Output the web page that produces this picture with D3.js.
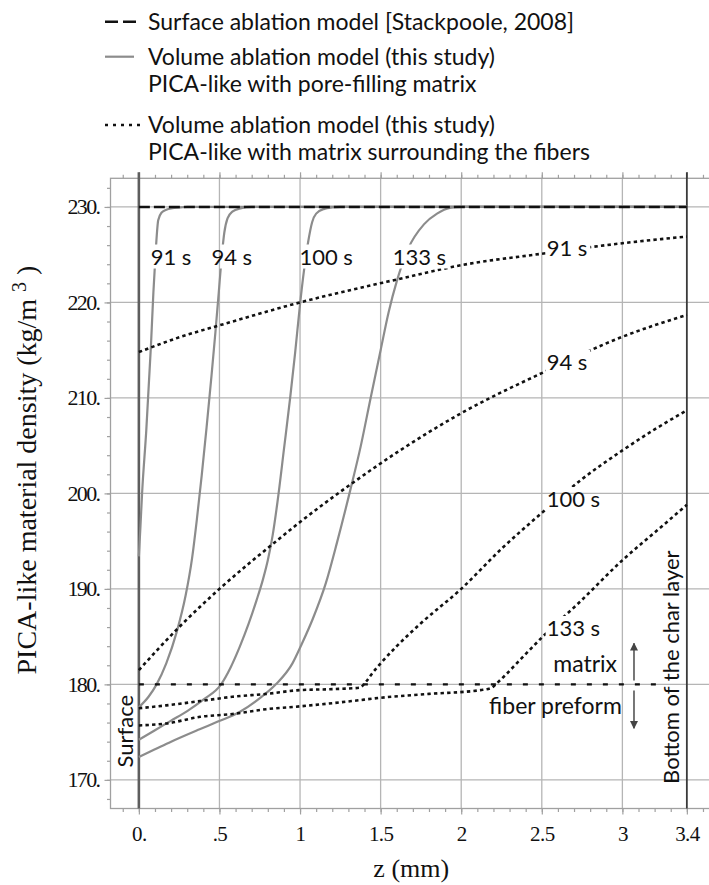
<!DOCTYPE html>
<html>
<head>
<meta charset="utf-8">
<script src="https://cdn.jsdelivr.net/npm/d3@7"></script>
<style>
  body { margin: 0; background: #fff; }
  svg { display: block; }
</style>
</head>
<body>
<svg id="chart" width="709" height="885"></svg>
<script>
// ---- data -------------------------------------------------------------
const depthTicks = [0, 0.5, 1, 1.5, 2, 2.5, 3, 3.4];
const depthTickLabels = ["0.", ".5", "1", "1.5", "2", "2.5", "3", "3.4"];
const densityTicks = [170, 180, 190, 200, 210, 220, 230];
const densityTickLabels = ["170.", "180.", "190.", "200.", "210.", "220.", "230."];
const timeLabels = ["91 s", "94 s", "100 s", "133 s"];

// surface ablation model: virgin char density everywhere
const surfaceModel = [[0, 230], [3.4, 230]];
// matrix / fiber preform density boundary
const matrixBoundary = [[0, 180], [3.22, 180]];

// volume ablation, pore-filling matrix  [z (mm), density (kg/m3)]
const poreFilling91 = [[0,193.4],[0.01,196.6],[0.02,200],[0.046,206.6],[0.075,215.5],[0.09,221],[0.105,225.5],[0.12,228.6],[0.14,229.4],[0.17,229.7],[0.2,229.85],[0.26,229.95],[0.3,230],[3.4,230]];
const poreFilling94 = [[0,177.6],[0.06,178.7],[0.11,180],[0.17,182.2],[0.235,185.5],[0.29,189.3],[0.33,193.2],[0.36,197.3],[0.39,201.9],[0.42,206.9],[0.45,212.2],[0.475,216.9],[0.495,220.9],[0.512,224.4],[0.53,227.3],[0.55,228.8],[0.58,229.5],[0.63,229.85],[0.7,230],[3.4,230]];
const poreFilling100 = [[0,174.2],[0.1,175.2],[0.2,176.2],[0.3,177.2],[0.4,178.4],[0.51,180],[0.57,181.8],[0.625,183.9],[0.68,186.3],[0.73,188.8],[0.77,191],[0.8,193],[0.83,195.6],[0.86,199.1],[0.9,204.6],[0.94,210.2],[0.97,214.8],[1.0,219.8],[1.025,223.4],[1.05,226.3],[1.075,228.4],[1.1,229.3],[1.15,229.8],[1.2,229.95],[1.25,230],[3.4,230]];
const poreFilling133 = [[0,172.4],[0.1,173.2],[0.2,174],[0.377,175.3],[0.49,176.1],[0.625,177.1],[0.747,178.5],[0.85,180],[0.953,182.2],[1.01,184.2],[1.08,186.9],[1.16,190.6],[1.23,194.9],[1.314,200.5],[1.376,204.9],[1.438,210],[1.5,215],[1.55,219],[1.6,222.2],[1.67,225.6],[1.77,228.2],[1.85,229.3],[1.93,229.9],[2.0,230],[3.4,230]];

// volume ablation, matrix surrounding the fibers
const surround91 = [[0,214.8],[0.26,216.4],[0.5,217.6],[1,220],[1.6,222.4],[2,223.9],[2.5,225.1],[3,226.2],[3.4,226.9]];
const surround94 = [[0,181.5],[0.25,186],[0.5,190],[0.86,195.1],[1,197],[1.31,200.9],[1.62,204.5],[2,208.4],[2.5,212.6],[3,216.4],[3.4,218.7]];
const surround100 = [[0,177.5],[0.17,177.8],[0.38,178.25],[0.58,178.7],[0.79,179.0],[1.0,179.4],[1.2,179.5],[1.37,179.65],[1.41,180.3],[1.45,181.2],[1.5,182.2],[1.6,184.0],[1.75,186.4],[2.0,190.0],[2.25,194.2],[2.51,198.1],[2.75,201.5],[3.0,204.5],[3.2,206.7],[3.4,208.7]];
const surround133 = [[0,175.7],[0.17,175.9],[0.38,176.6],[0.58,176.9],[0.79,177.4],[1.0,177.7],[1.32,178.25],[1.5,178.6],[1.8,179.0],[2.12,179.4],[2.19,179.65],[2.22,180.1],[2.27,180.9],[2.35,182.3],[2.43,183.7],[2.5,184.9],[2.74,188.7],[3.0,193.0],[3.2,195.9],[3.4,198.8]];

const poreFillingSeries = [poreFilling91, poreFilling94, poreFilling100, poreFilling133];
const surroundSeries = [surround91, surround94, surround100, surround133];

// label anchors [z, density]
const poreFillingLabelAt = [[0.073,224.8],[0.45,224.8],[0.996,224.8],[1.575,224.8]];
const surroundLabelAt = [[2.53,225.7],[2.53,213.8],[2.53,199.4],[2.53,185.9]];

const legendEntries = [
  { style: "dashed", lines: ["Surface ablation model [Stackpoole, 2008]"] },
  { style: "solid",  lines: ["Volume ablation model (this study)", "PICA-like with pore-filling matrix"] },
  { style: "dotted", lines: ["Volume ablation model (this study)", "PICA-like with matrix surrounding the fibers"] }
];

// ---- layout -----------------------------------------------------------
const W = 709, H = 885;
const frame = { left: 110.5, right: 712, top: 178.3, bottom: 808.5 };
const SANS = "Lato, 'Noto Sans', sans-serif";
const SERIF = "'Liberation Serif', 'DejaVu Serif', serif";
const GRID = "#b5b5b5", GRAY_CURVE = "#8c8c8c";

const x = d3.scaleLinear().domain([-0.176, 3.556]).range([frame.left, frame.right]);
const y = d3.scaleLinear().domain([167, 233]).range([frame.bottom, frame.top]);

const svg = d3.select("#chart");
const defs = svg.append("defs");

defs.append("marker")
  .attr("id", "arrowHead").attr("viewBox", "0 0 10 10")
  .attr("refX", 9).attr("refY", 5)
  .attr("markerWidth", 5).attr("markerHeight", 6)
  .attr("markerUnits", "strokeWidth").attr("orient", "auto")
  .append("path").attr("d", "M0,0 L10,5 L0,10 Z").attr("fill", "#444");

// ---- gridlines --------------------------------------------------------
const grid = svg.append("g");
grid.selectAll("line.vg").data(depthTicks.filter(d => d > 0 && d < 3.4)).join("line")
  .attr("x1", d => x(d)).attr("x2", d => x(d))
  .attr("y1", frame.top).attr("y2", frame.bottom)
  .attr("stroke", GRID).attr("stroke-width", 1.3);
grid.selectAll("line.hg").data(densityTicks).join("line")
  .attr("x1", frame.left).attr("x2", frame.right)
  .attr("y1", d => y(d)).attr("y2", d => y(d))
  .attr("stroke", GRID).attr("stroke-width", 1.3);

// ---- frame ticks ------------------------------------------------------
const minorX = d3.range(-1, 36).map(i => i / 10);
const minorY = d3.range(168, 233, 2);

function styleAxis(g) {
  g.select(".domain").remove();
  g.selectAll(".tick line").attr("stroke", "#a0a0a0").attr("stroke-width", 1.2);
}
svg.append("g").attr("transform", `translate(0,${frame.bottom})`)
  .call(d3.axisBottom(x).tickValues(minorX).tickSize(3.5).tickFormat("")).call(styleAxis);
svg.append("g").attr("transform", `translate(0,${frame.top})`)
  .call(d3.axisTop(x).tickValues(minorX).tickSize(3.5).tickFormat("")).call(styleAxis);
svg.append("g").attr("transform", `translate(${frame.left},0)`)
  .call(d3.axisLeft(y).tickValues(minorY).tickSize(3.5).tickFormat("")).call(styleAxis);

const xAxisBottom = svg.append("g").attr("transform", `translate(0,${frame.bottom})`)
  .call(d3.axisBottom(x).tickValues(depthTicks).tickSize(6)
    .tickFormat((d, i) => depthTickLabels[i]).tickPadding(12))
  .call(styleAxis);
xAxisBottom.selectAll("text").attr("font-family", SERIF).attr("font-size", 21)
  .attr("fill", "#111").attr("letter-spacing", "-0.6px");

svg.append("g").attr("transform", `translate(0,${frame.top})`)
  .call(d3.axisTop(x).tickValues(depthTicks).tickSize(6).tickFormat("")).call(styleAxis);

const yAxisLeft = svg.append("g").attr("transform", `translate(${frame.left},0)`)
  .call(d3.axisLeft(y).tickValues(densityTicks).tickSize(6)
    .tickFormat((d, i) => densityTickLabels[i]).tickPadding(5))
  .call(styleAxis);
yAxisLeft.selectAll("text").attr("font-family", SERIF).attr("font-size", 22)
  .attr("fill", "#111").attr("letter-spacing", "-1.6px");

svg.append("rect")
  .attr("x", frame.left).attr("y", frame.top)
  .attr("width", frame.right - frame.left).attr("height", frame.bottom - frame.top)
  .attr("fill", "none").attr("stroke", "#a0a0a0").attr("stroke-width", 1.3);

// surface and bottom of char layer
svg.append("line").attr("x1", x(0)).attr("x2", x(0))
  .attr("y1", frame.top - 6).attr("y2", frame.bottom)
  .attr("stroke", "#5e5e5e").attr("stroke-width", 2.6);
svg.append("line").attr("x1", x(3.4)).attr("x2", x(3.4))
  .attr("y1", frame.top - 6).attr("y2", frame.bottom)
  .attr("stroke", "#3a3a3a").attr("stroke-width", 1.8);

// ---- curve labels (placed first so the curves can be cut around them) --
const labelLayer = svg.append("g").attr("font-family", SANS).attr("font-size", 22).attr("fill", "#111");
const allLabels = [];
poreFillingLabelAt.forEach((p, i) => allLabels.push({ p, t: timeLabels[i] }));
surroundLabelAt.forEach((p, i) => allLabels.push({ p, t: timeLabels[i] }));
const labelNodes = labelLayer.selectAll("text").data(allLabels).join("text")
  .attr("x", d => x(d.p[0])).attr("y", d => y(d.p[1])).attr("dy", "0.36em")
  .text(d => d.t);

const gapMask = defs.append("mask").attr("id", "labelGaps")
  .attr("maskUnits", "userSpaceOnUse")
  .attr("x", 0).attr("y", 0).attr("width", W).attr("height", H);
gapMask.append("rect").attr("x", 0).attr("y", 0).attr("width", W).attr("height", H).attr("fill", "#fff");
labelNodes.each(function () {
  const b = this.getBBox();
  gapMask.append("rect")
    .attr("x", b.x - 1).attr("y", b.y + 2)
    .attr("width", b.width + 4).attr("height", b.height - 3)
    .attr("fill", "#000");
});

// ---- curves -----------------------------------------------------------
const line = d3.line().x(d => x(d[0])).y(d => y(d[1])).curve(d3.curveMonotoneX);
const curves = svg.append("g").attr("mask", "url(#labelGaps)").attr("fill", "none");

curves.selectAll("path.pore").data(poreFillingSeries).join("path")
  .attr("d", line).attr("stroke", GRAY_CURVE).attr("stroke-width", 2.2);

svg.append("path").datum(matrixBoundary).attr("d", line)
  .attr("fill", "none").attr("stroke", "#111").attr("stroke-width", 2.2)
  .attr("stroke-dasharray", "5,11");

curves.selectAll("path.surround").data(surroundSeries).join("path")
  .attr("d", line).attr("stroke", "#111").attr("stroke-width", 2.6)
  .attr("stroke-dasharray", "3.4,3.2");

svg.append("path").datum(surfaceModel).attr("d", line)
  .attr("fill", "none").attr("stroke", "#111").attr("stroke-width", 2.6)
  .attr("stroke-dasharray", "11,4");

labelLayer.raise();

// ---- annotations ------------------------------------------------------
const notes = svg.append("g").attr("font-family", SANS).attr("font-size", 22).attr("fill", "#111");
notes.append("text").attr("x", x(2.967)).attr("y", y(182.2)).attr("dy", "0.36em")
  .attr("font-size", 23).attr("text-anchor", "end").text("matrix");
notes.append("text").attr("x", x(2.997)).attr("y", y(177.8)).attr("dy", "0.36em")
  .attr("font-size", 23).attr("text-anchor", "end").text("fiber preform");
svg.append("line").attr("x1", x(3.072)).attr("x2", x(3.072))
  .attr("y1", y(180.4)).attr("y2", y(184.3))
  .attr("stroke", "#555").attr("stroke-width", 1.6).attr("marker-end", "url(#arrowHead)");
svg.append("line").attr("x1", x(3.072)).attr("x2", x(3.072))
  .attr("y1", y(179.35)).attr("y2", y(175.4))
  .attr("stroke", "#555").attr("stroke-width", 1.6).attr("marker-end", "url(#arrowHead)");

notes.append("text")
  .attr("transform", `translate(${x(0) - 6},${y(175.1)}) rotate(-90)`)
  .attr("text-anchor", "middle").text("Surface");
notes.append("text")
  .attr("transform", `translate(${x(3.4) - 8},${y(181.8)}) rotate(-90)`)
  .attr("text-anchor", "middle").text("Bottom of the char layer");

// ---- axis titles ------------------------------------------------------
svg.append("text")
  .attr("x", (frame.left + frame.right) / 2).attr("y", 877)
  .attr("text-anchor", "middle").attr("font-family", SERIF).attr("font-size", 26)
  .attr("fill", "#111").text("z (mm)");

const yTitle = svg.append("text")
  .attr("transform", `translate(36,470) rotate(-90)`)
  .attr("text-anchor", "middle").attr("font-family", SERIF).attr("font-size", 28)
  .attr("fill", "#111");
yTitle.append("tspan").text("PICA-like material density (kg/m ");
yTitle.append("tspan").attr("dy", -10).attr("font-size", 20).text("3");
yTitle.append("tspan").attr("dy", 10).text(" )");

// ---- legend -----------------------------------------------------------
const legend = svg.append("g").attr("font-family", SANS).attr("font-size", 23).attr("fill", "#111");
const legendRowY = [21.7, 56.7, 125];
const legendSymbol = {
  dashed: { x2: 136, stroke: "#111", width: 2.6, dash: "13,5" },
  solid:  { x2: 134, stroke: GRAY_CURVE, width: 2.2, dash: null },
  dotted: { x2: 142, stroke: "#111", width: 2.4, dash: "3,5" }
};
legendEntries.forEach((e, i) => {
  const cy = legendRowY[i], s = legendSymbol[e.style];
  legend.append("line")
    .attr("x1", 105).attr("x2", s.x2)
    .attr("y1", cy).attr("y2", cy)
    .attr("stroke", s.stroke).attr("stroke-width", s.width)
    .attr("stroke-dasharray", s.dash);
  e.lines.forEach((t, k) => {
    legend.append("text").attr("x", 148).attr("y", cy + k * 26.6).attr("dy", "0.36em").text(t);
  });
});
</script>
</body>
</html>
